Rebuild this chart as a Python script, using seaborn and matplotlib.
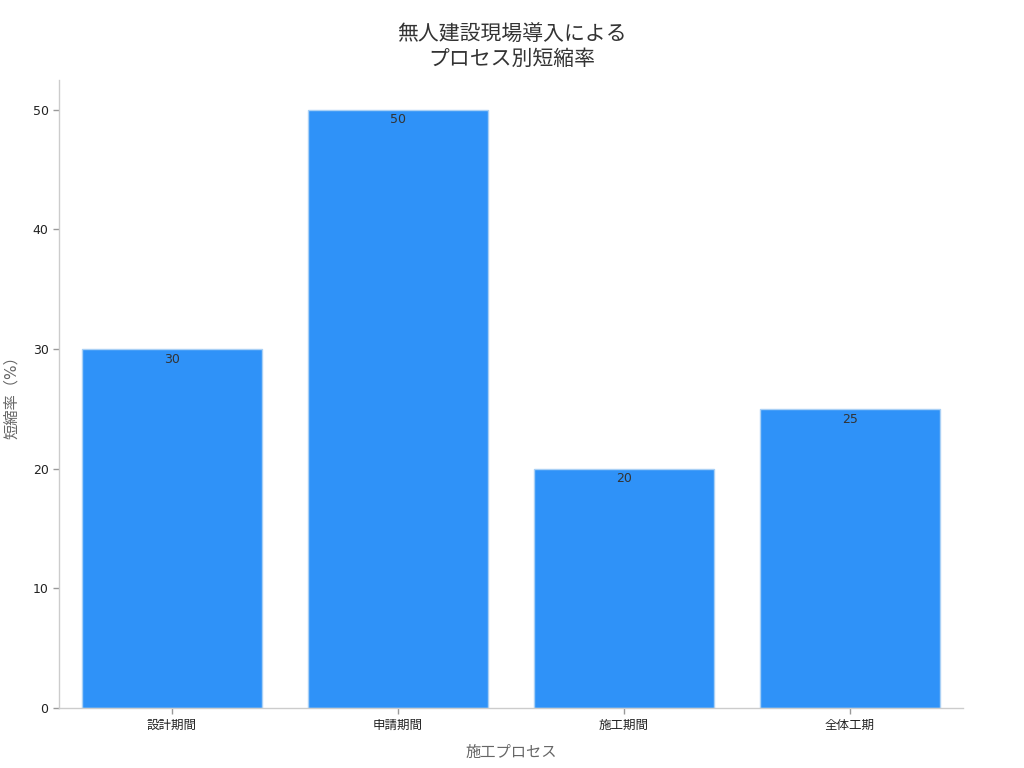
import matplotlib
matplotlib.use("Agg")
import matplotlib.pyplot as plt
import seaborn as sns
import pandas as pd

categories = ["設計期間", "申請期間", "施工期間", "全体工期"]
values = [30, 50, 20, 25]

sns.set_theme(style="white")
plt.rcParams['font.family'] = ['DejaVu Sans', 'Noto Sans CJK JP']

df = pd.DataFrame({"process": categories, "rate": values})

fig = plt.figure(figsize=(10.24, 7.68), dpi=100)
ax = fig.add_axes([0.0576, 0.078, 0.8828, 0.818])
sns.barplot(data=df, x="process", y="rate", color="#2f92f8", saturation=1,
            edgecolor="#a9d0f5", linewidth=1, width=0.8, ax=ax)
ax.set_ylim(0, 52.5)
ax.set_xlim(-0.5, 3.5)
for c in ax.containers:
    ax.bar_label(c, labels=[f"{v:g}" for v in values], padding=-12,
                 color="#333333", fontsize=9)
sns.despine(ax=ax)
for s in ["left", "bottom"]:
    ax.spines[s].set_color("#cccccc")
    ax.spines[s].set_linewidth(1)
ax.tick_params(axis="both", length=4, width=1, color="#999999",
               labelsize=9, labelcolor="#222222", bottom=True, left=True)
ax.set_yticks([0, 10, 20, 30, 40, 50])
ax.set_xlabel("施工プロセス", fontsize=11, color="#666666", labelpad=10)
ax.set_ylabel("短縮率（%）", fontsize=11, color="#666666", labelpad=10)
fig.suptitle("無人建設現場導入による\nプロセス別短縮率", fontsize=15,
             color="#333333", y=0.968, linespacing=1.3)
fig.savefig("out.png", dpi=100)
